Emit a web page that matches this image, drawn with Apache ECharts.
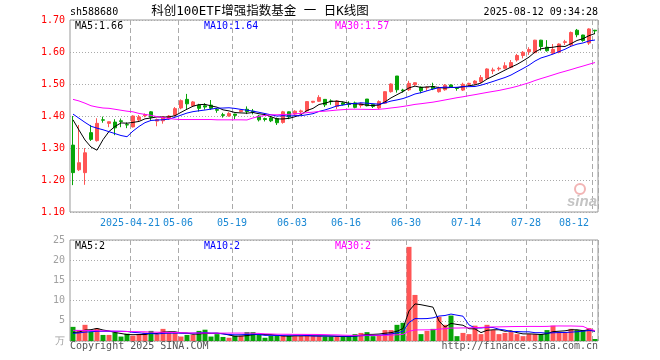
<!DOCTYPE html>
<html>
<head>
<meta charset="utf-8">
<script src="https://cdn.jsdelivr.net/npm/echarts@6/dist/echarts.min.js"></script>
<style>html,body{margin:0;padding:0;background:#fff}#c{width:660px;height:360px}</style>
</head>
<body>
<div id="c"></div>
<script>
const categories = [
'2025-04-07','2025-04-08','2025-04-09','2025-04-10','2025-04-11',
'2025-04-14','2025-04-15','2025-04-16','2025-04-17','2025-04-18',
'2025-04-21','2025-04-22','2025-04-23','2025-04-24','2025-04-25',
'2025-04-28','2025-04-29','2025-04-30',
'2025-05-06','2025-05-07','2025-05-08','2025-05-09',
'2025-05-12','2025-05-13','2025-05-14','2025-05-15','2025-05-16',
'2025-05-19','2025-05-20','2025-05-21','2025-05-22','2025-05-23',
'2025-05-26','2025-05-27','2025-05-28','2025-05-29','2025-05-30',
'2025-06-03','2025-06-04','2025-06-05','2025-06-06',
'2025-06-09','2025-06-10','2025-06-11','2025-06-12','2025-06-13',
'2025-06-16','2025-06-17','2025-06-18','2025-06-19','2025-06-20',
'2025-06-23','2025-06-24','2025-06-25','2025-06-26','2025-06-27',
'2025-06-30','2025-07-01','2025-07-02','2025-07-03','2025-07-04',
'2025-07-07','2025-07-08','2025-07-09','2025-07-10','2025-07-11',
'2025-07-14','2025-07-15','2025-07-16','2025-07-17','2025-07-18',
'2025-07-21','2025-07-22','2025-07-23','2025-07-24','2025-07-25',
'2025-07-28','2025-07-29','2025-07-30','2025-07-31','2025-08-01',
'2025-08-04','2025-08-05','2025-08-06','2025-08-07','2025-08-08',
'2025-08-11','2025-08-12'];

const openP = [1.309,1.232,1.223,1.348,1.323,1.388,1.377,1.381,1.385,1.373,
1.366,1.388,1.401,1.413,1.384,1.385,1.392,1.403,1.425,1.452,
1.432,1.434,1.432,1.434,1.420,1.404,1.400,1.406,1.414,1.421,
1.415,1.400,1.392,1.394,1.392,1.380,1.413,1.406,1.413,1.416,
1.443,1.446,1.452,1.447,1.430,1.441,1.438,1.441,1.433,1.453,
1.436,1.425,1.440,1.476,1.525,1.481,1.482,1.498,1.490,1.488,
1.492,1.476,1.482,1.497,1.487,1.481,1.499,1.502,1.507,1.518,
1.541,1.547,1.549,1.552,1.575,1.589,1.601,1.598,1.637,1.615,
1.596,1.599,1.630,1.622,1.668,1.653,1.628,1.668];
const closeP = [1.223,1.254,1.285,1.327,1.377,1.387,1.382,1.363,1.383,1.372,
1.400,1.397,1.404,1.396,1.389,1.397,1.400,1.423,1.448,1.438,
1.444,1.424,1.428,1.424,1.418,1.402,1.408,1.402,1.418,1.414,
1.413,1.388,1.389,1.385,1.379,1.413,1.397,1.415,1.416,1.445,
1.446,1.458,1.435,1.445,1.447,1.436,1.436,1.427,1.438,1.432,
1.430,1.445,1.476,1.500,1.482,1.479,1.502,1.504,1.479,1.490,
1.485,1.486,1.496,1.490,1.486,1.499,1.502,1.509,1.520,1.547,
1.544,1.549,1.557,1.567,1.589,1.599,1.608,1.637,1.617,1.604,
1.608,1.625,1.632,1.661,1.654,1.636,1.672,1.666];
const lowP = [1.184,1.228,1.185,1.322,1.320,1.379,1.365,1.340,1.365,1.362,
1.364,1.383,1.396,1.385,1.368,1.376,1.388,1.398,1.421,1.422,
1.429,1.414,1.420,1.419,1.410,1.395,1.398,1.390,1.412,1.406,
1.405,1.383,1.383,1.381,1.372,1.376,1.390,1.402,1.406,1.414,
1.440,1.444,1.428,1.435,1.422,1.433,1.427,1.424,1.426,1.430,
1.425,1.421,1.438,1.473,1.473,1.473,1.478,1.494,1.471,1.479,
1.481,1.473,1.479,1.488,1.479,1.478,1.494,1.497,1.502,1.515,
1.531,1.541,1.546,1.549,1.570,1.580,1.591,1.596,1.604,1.601,
1.593,1.596,1.622,1.619,1.646,1.632,1.622,1.656];
const highP = [1.400,1.372,1.300,1.372,1.393,1.398,1.383,1.390,1.392,1.380,
1.402,1.403,1.408,1.415,1.392,1.399,1.403,1.428,1.452,1.469,
1.447,1.438,1.440,1.450,1.425,1.410,1.412,1.407,1.420,1.430,
1.422,1.403,1.395,1.398,1.395,1.416,1.414,1.418,1.420,1.446,
1.447,1.465,1.453,1.452,1.450,1.445,1.446,1.445,1.442,1.453,
1.438,1.449,1.477,1.502,1.525,1.485,1.510,1.505,1.492,1.492,
1.504,1.492,1.500,1.499,1.490,1.504,1.504,1.512,1.528,1.549,
1.551,1.554,1.568,1.575,1.594,1.603,1.615,1.638,1.638,1.637,
1.625,1.627,1.638,1.664,1.672,1.654,1.674,1.669];

// volume (万)
const volume = [3.5,2.7,4.0,2.3,3.1,1.5,1.5,2.1,1.1,1.8,
1.3,1.7,2.1,2.5,1.7,3.0,2.1,2.1,1.1,1.5,
1.5,2.5,2.8,1.1,1.7,1.0,0.8,1.3,1.3,2.2,
2.2,1.5,0.8,1.3,1.3,1.3,1.3,1.2,1.2,1.5,
1.2,1.2,1.1,1.1,1.1,1.1,1.1,1.7,2.0,2.2,
1.2,1.5,2.7,2.7,4.0,4.5,23.3,11.4,1.7,2.5,
3.0,6.0,4.0,6.3,1.2,2.0,1.7,3.8,1.7,4.0,
2.7,1.7,2.0,2.2,1.7,1.2,1.7,1.7,1.7,2.7,
3.8,2.2,2.2,3.0,2.7,2.7,3.2,0.5];

// moving-average values at the start of the view (window reaches before the first day)
const ma5Lead = [1.388,1.356,1.325,1.303];
const ma10Lead = [1.406,1.393,1.380,1.368,1.362,1.357,1.351,1.345,1.339];
const ma30Lead = [1.452,1.447,1.440,1.432,1.428,1.425,1.424,1.421,1.418,1.415,
1.413,1.408,1.405,1.402,1.398,1.395,1.392,1.390,1.389,1.389,
1.389,1.389,1.389,1.389,1.388,1.388,1.388,1.388,1.388];
const vma5Lead = [2.1,2.2,2.7,2.8];
const vma10Lead = [1.9,2.0,2.2,2.3,2.4,2.4,2.4,2.4,2.4];
const vma30Lead = [2.64,2.62,2.60,2.58,2.55,2.50,2.48,2.45,2.40,2.35,
2.32,2.30,2.28,2.20,2.17,2.15,2.12,2.10,2.05,2.00,
1.98,1.97,1.96,1.95,1.95,1.95,1.96,1.96,1.96];

const tickDates = ['2025-04-21','2025-05-06','2025-05-19','2025-06-03','2025-06-16','2025-06-30','2025-07-14','2025-07-28','2025-08-12'];
const tickLabels = ['2025-04-21','05-06','05-19','06-03','06-16','06-30','07-14','07-28','08-12'];

const priceTicks = [1.10,1.20,1.30,1.40,1.50,1.60,1.70];
const volTicks = [0,5,10,15,20,25];

function movingAvg(vals, n, lead) {
  return vals.map((v, i) => {
    if (i < n - 1) return lead[i];
    let s = 0;
    for (let j = i - n + 1; j <= i; j++) s += vals[j];
    return +(s / n).toFixed(4);
  });
}

const labelMap = {};
tickDates.forEach((d, j) => { labelMap[categories.indexOf(d)] = tickLabels[j]; });
const tickSet = new Set(Object.keys(labelMap).map(Number));

const RED = '#ff5555', GREEN = '#08a408';
const MONO = '"DejaVu Sans Mono", "Liberation Mono", monospace';

const candleData = categories.map((_, i) => [openP[i], closeP[i], lowP[i], highP[i]]);
const volData = volume.map((v, i) => ({ value: v, itemStyle: { color: closeP[i] >= openP[i] ? RED : GREEN } }));

const chart = echarts.init(document.getElementById('c'), null, { renderer: 'canvas' });

const splitX = { show: true, interval: (i) => tickSet.has(i), lineStyle: { color: '#aaa', type: [5, 3], width: 1 } };

function maLine(name, data, color, xi) {
  return { name, type: 'line', data, xAxisIndex: xi, yAxisIndex: xi, showSymbol: false, symbol: 'none',
    lineStyle: { color, width: 1 }, itemStyle: { color }, z: 5, silent: true };
}

function txt(text, x, y, fill, font, align) {
  return { type: 'text', x, y, silent: true, z: 100,
    style: { text, fill, font, align: align || 'left', textAlign: align || 'left', verticalAlign: 'middle', textVerticalAlign: 'middle' } };
}

chart.setOption({
  animation: false,
  backgroundColor: '#fff',
  grid: [
    { left: 70, top: 20, width: 528, height: 192, show: true, borderColor: '#999', borderWidth: 1, backgroundColor: 'transparent' },
    { left: 70, top: 240, width: 528, height: 101, show: true, borderColor: '#999', borderWidth: 1, backgroundColor: 'transparent' }
  ],
  xAxis: [
    { type: 'category', gridIndex: 0, data: categories, boundaryGap: true,
      axisLine: { show: false }, axisTick: { show: false },
      axisLabel: { interval: (i) => tickSet.has(i), formatter: (v, i) => labelMap[i] || '',
        color: '#1a88d4', fontFamily: MONO, fontSize: 10, margin: 6, padding: [0, 6, 0, 0], alignMaxLabel: 'right' },
      splitLine: splitX },
    { type: 'category', gridIndex: 1, data: categories, boundaryGap: true,
      axisLine: { show: false }, axisTick: { show: false }, axisLabel: { show: false },
      splitLine: splitX }
  ],
  yAxis: [
    { type: 'value', gridIndex: 0, min: priceTicks[0], max: priceTicks[priceTicks.length - 1], interval: 0.1,
      axisLine: { show: false }, axisTick: { show: false },
      axisLabel: { formatter: (v) => v.toFixed(2), color: '#ff0000', fontFamily: MONO, fontSize: 10, margin: 5 },
      splitLine: { show: true, lineStyle: { color: '#aaa', type: [1, 2] } } },
    { type: 'value', gridIndex: 1, min: volTicks[0], max: volTicks[volTicks.length - 1], interval: 5,
      axisLine: { show: false }, axisTick: { show: false },
      axisLabel: { formatter: (v) => v === 0 ? '万' : String(v), color: '#a0a0a0', fontFamily: MONO, fontSize: 10, margin: 5 },
      splitLine: { show: true, lineStyle: { color: '#aaa', type: [1, 2] } } }
  ],
  series: [
    { type: 'candlestick', xAxisIndex: 0, yAxisIndex: 0, data: candleData, barWidth: 4,
      itemStyle: { color: RED, color0: GREEN, borderColor: RED, borderColor0: GREEN, borderWidth: 1 }, z: 3, silent: true },
    maLine('MA5', movingAvg(closeP, 5, ma5Lead), '#000000', 0),
    maLine('MA10', movingAvg(closeP, 10, ma10Lead), '#0000ff', 0),
    maLine('MA30', movingAvg(closeP, 30, ma30Lead), '#ff00ff', 0),
    { type: 'bar', xAxisIndex: 1, yAxisIndex: 1, data: volData, barWidth: 5, z: 3, silent: true },
    maLine('VMA5', movingAvg(volume, 5, vma5Lead), '#000000', 1),
    maLine('VMA10', movingAvg(volume, 10, vma10Lead), '#0000ff', 1),
    maLine('VMA30', movingAvg(volume, 30, vma30Lead), '#ff00ff', 1)
  ],
  graphic: [
    txt('sh588680', 70, 12, '#000', '10px ' + MONO),
    txt('科创100ETF增强指数基金 一 日K线图', 260, 12, '#000', '12.5px "DejaVu Sans Mono", "Noto Sans CJK SC"', 'center'),
    txt('2025-08-12 09:34:28', 598, 12, '#000', '10px ' + MONO, 'right'),
    txt('MA5:1.66', 75, 26, '#000', '10px ' + MONO),
    txt('MA10:1.64', 204, 26, '#0000ff', '10px ' + MONO),
    txt('MA30:1.57', 335, 26, '#ff00ff', '10px ' + MONO),
    txt('MA5:2', 75, 246, '#000', '10px ' + MONO),
    txt('MA10:2', 204, 246, '#0000ff', '10px ' + MONO),
    txt('MA30:2', 335, 246, '#ff00ff', '10px ' + MONO),
    txt('Copyright 2025 SINA.COM', 70, 346, '#555', '10px ' + MONO),
    txt('http://finance.sina.com.cn', 598, 346, '#555', '10px ' + MONO, 'right'),
    { type: 'circle', shape: { cx: 580, cy: 189, r: 5 }, style: { fill: 'none', stroke: '#f2b4b4', lineWidth: 2 }, silent: true, z: 1 },
    txt('sina', 597, 202, '#c4c4c4', 'italic bold 15px "Liberation Sans", Arial', 'right')
  ]
});
</script>
</body>
</html>
